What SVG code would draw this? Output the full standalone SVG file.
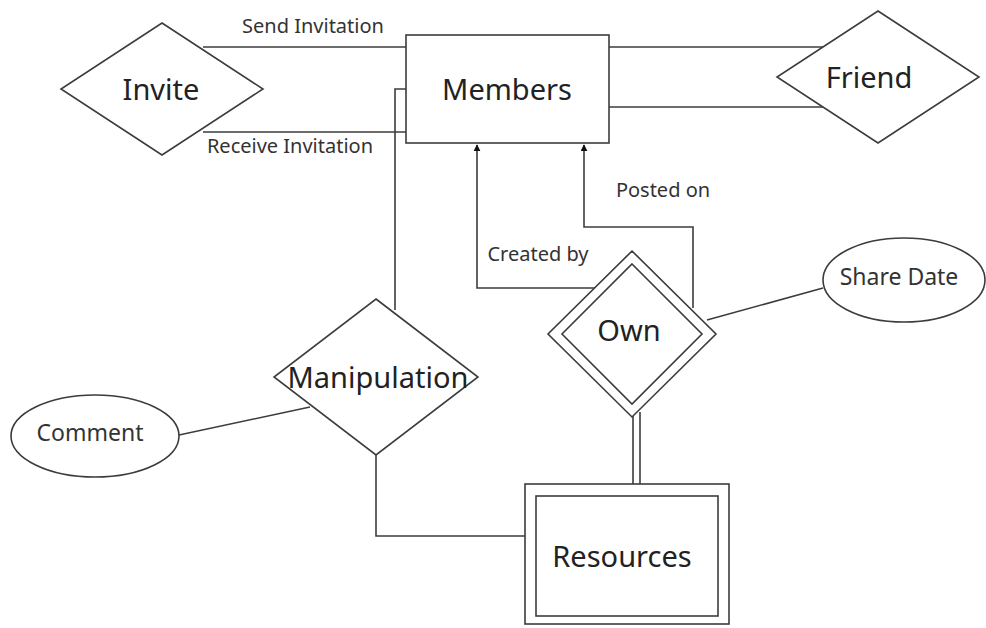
<svg xmlns="http://www.w3.org/2000/svg" width="986" height="628" viewBox="0 0 986 628">
<defs>
<style>
.s{fill:none;stroke:#3c3c3c;stroke-width:1.6}
.n{fill:#fff;stroke:#3c3c3c;stroke-width:1.6}
text{font-family:"Noto Sans","Open Sans","DejaVu Sans",sans-serif;fill:#222;text-anchor:middle;dominant-baseline:central}
.big{font-size:29px}
.lbl{font-size:20px;fill:#333}
.att{font-size:23px;fill:#333}
</style>
<marker id="ah" viewBox="0 0 10 10" refX="9" refY="5" markerWidth="7" markerHeight="7" orient="auto" markerUnits="userSpaceOnUse">
<path d="M0,0 L10,5 L0,10 z" fill="#111"/>
</marker>
</defs>
<rect width="986" height="628" fill="#fff"/>
<g id="connectors">
<line class="s" x1="203" y1="47" x2="406" y2="47"/>
<line class="s" x1="203" y1="132" x2="406" y2="132"/>
<line class="s" x1="609" y1="47" x2="826" y2="47"/>
<line class="s" x1="609" y1="107" x2="826" y2="107"/>
<polyline class="s" points="406,89 395,89 395,310"/>
<line class="s" x1="179" y1="435" x2="310" y2="407"/>
<polyline class="s" points="376,454 376,536 525,536"/>
<polyline class="s" points="597,288 477,288 477,145" marker-end="url(#ah)"/>
<polyline class="s" points="693,308 693,227 584,227 584,145" marker-end="url(#ah)"/>
<line class="s" x1="707" y1="320" x2="823" y2="288"/>
<line class="s" x1="633" y1="412" x2="633" y2="484"/>
<line class="s" x1="640" y1="412" x2="640" y2="484"/>
</g>
<g id="members">
<rect class="n" x="406" y="35" width="203" height="108"/>
<text class="big" x="507" y="88">Members</text>
</g>
<g id="invite">
<polygon class="n" points="162,23 263,89 162,155 61,89"/>
<text class="big" x="161" y="88">Invite</text>
</g>
<g id="friend">
<polygon class="n" points="878,11 979,77 878,143 777,77"/>
<text class="big" x="869" y="76">Friend</text>
</g>
<g id="manipulation">
<polygon class="n" points="376,299 478,377 376,455 274,377"/>
<text class="big" x="378" y="376">Manipulation</text>
</g>
<g id="own">
<polygon class="n" points="632,251 716,334 632,417 548,334"/>
<polygon class="n" points="632,264 702,334 632,404 562,334"/>
<text class="big" x="629" y="329">Own</text>
</g>
<g id="comment">
<ellipse class="n" cx="95" cy="436" rx="84" ry="41"/>
<text class="att" x="90" y="432">Comment</text>
</g>
<g id="sharedate">
<ellipse class="n" cx="904" cy="280" rx="81" ry="42"/>
<text class="att" x="899" y="276">Share Date</text>
</g>
<g id="resources">
<rect class="n" x="525" y="484" width="204" height="140"/>
<rect class="n" x="536" y="496" width="182" height="120"/>
<text class="big" x="622" y="555">Resources</text>
</g>
<g id="labels">
<text class="lbl" x="313" y="25">Send Invitation</text>
<text class="lbl" x="290" y="145">Receive Invitation</text>
<text class="lbl" x="663" y="189">Posted on</text>
<text class="lbl" x="538" y="253">Created by</text>
</g>
</svg>
